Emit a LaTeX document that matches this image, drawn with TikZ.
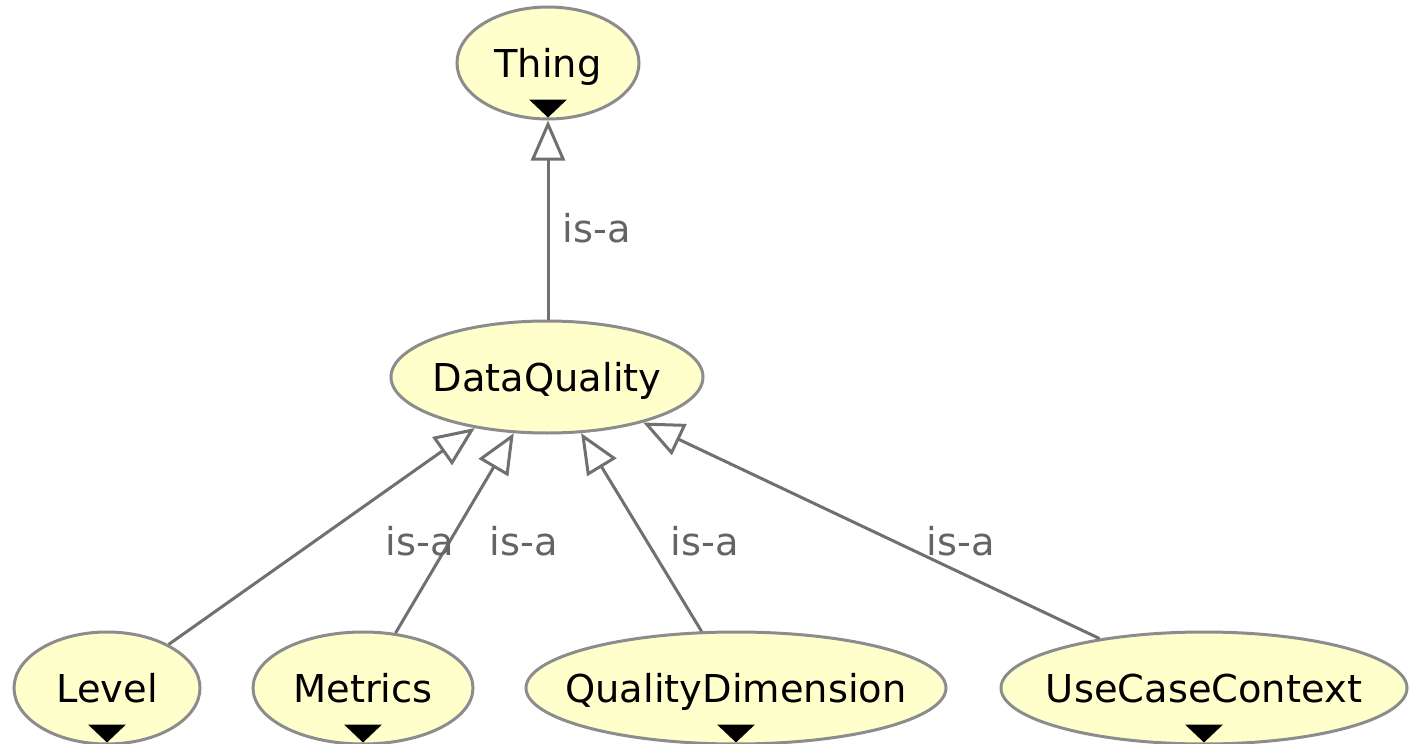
\documentclass[tikz,border=0pt]{standalone}
\usepackage{fontspec}
\setmainfont{DejaVu Sans}
\usetikzlibrary{shapes.geometric,arrows.meta}

\definecolor{classfill}{RGB}{255,255,204}
\definecolor{classborder}{RGB}{140,140,140}
\definecolor{edgegray}{RGB}{112,112,112}
\definecolor{labelgray}{RGB}{100,100,100}

\tikzset{
  classnode/.style={ellipse, draw=classborder, fill=classfill, line width=1.5pt,
    inner sep=0pt, minimum height=56pt, text height=14pt, text depth=0pt,
    font=\fontsize{19.2pt}{23pt}\selectfont},
  isa/.style={draw=edgegray, line width=1.5pt,
    -{Triangle[length=20pt, width=17pt, fill=white]}},
  isalabel/.style={anchor=base, text=labelgray, inner sep=0pt,
    font=\fontsize{19.2pt}{23pt}\selectfont},
  expander/.style={fill=black}
}
\newcommand{\cname}[1]{\makebox[0pt]{#1}}

\begin{document}
\begin{tikzpicture}[x=0.5pt, y=-0.5pt]
  \clip (0,0) rectangle (1410,744);
  \fill[white] (0,0) rectangle (1410,744);

  % classes
  \node[classnode, minimum width=91pt]  (thing)   at (548,63)   {\cname{Thing}};
  \node[classnode, minimum width=156pt] (dq)      at (547,377)  {\cname{DataQuality}};
  \node[classnode, minimum width=93pt]  (level)   at (107,688)  {\cname{Level}};
  \node[classnode, minimum width=110pt] (metrics) at (363,688)  {\cname{Metrics}};
  \node[classnode, minimum width=210pt] (qdim)    at (736,688)  {\cname{QualityDimension}};
  \node[classnode, minimum width=203pt] (ucc)     at (1204,688) {\cname{UseCaseContext}};

  % collapsed-subtree markers
  \foreach \n in {thing, level, metrics, qdim, ucc}
    \fill[expander] (\n.south) ++(0,-3) -- ++(-19,-18) -- ++(38,0) -- cycle;

  % subclass relations
  \draw[isa] (dq.north -| thing.south) -- (thing);
  \draw[isa] (level) -- (dq);
  \draw[isa] (metrics) -- (dq);
  \draw[isa] (qdim) -- (dq);
  \draw[isa] (ucc) -- (dq);

  % relation labels
  \node[isalabel] (l1) at (597,242) {is-a};
  \node[isalabel] (l2) at (420,555) {is-a};
  \node[isalabel] (l3) at (524,555) {is-a};
  \node[isalabel] (l4) at (705,555) {is-a};
  \node[isalabel] (l5) at (961,555) {is-a};
\end{tikzpicture}
\end{document}
